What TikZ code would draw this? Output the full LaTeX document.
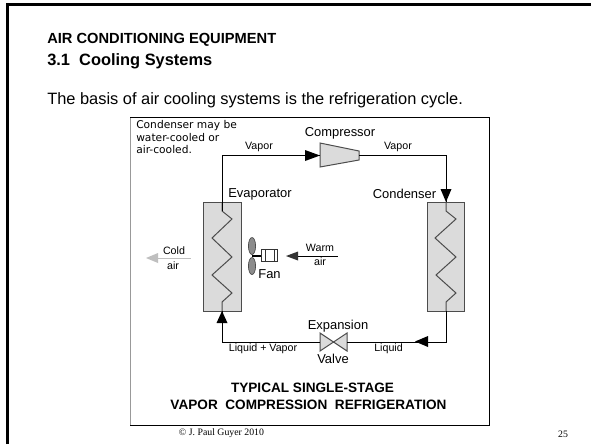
\documentclass[tikz,border=0pt]{standalone}
\usepackage{fontspec}
\setmainfont{Liberation Sans}
\newfontfamily\notefont{DejaVu Sans}
\newfontfamily\footfont{Liberation Serif}
\usetikzlibrary{arrows.meta}
\tikzset{
  x=0.75pt,y=-0.75pt,
  lbl/.style={inner sep=0pt,font=\fontsize{9.7pt}{11pt}\selectfont},
  small/.style={inner sep=0pt,font=\fontsize{8pt}{9pt}\selectfont},
  note/.style={inner sep=0pt,anchor=west,font=\notefont\fontsize{8pt}{9pt}\selectfont},
  head/.style={inner sep=0pt,anchor=west,font=\bfseries\fontsize{11pt}{12pt}\selectfont},
  part/.style={draw=black!70,fill=black!14,line width=0.75pt},
  pipe/.style={draw=black,line width=0.75pt},
  coil/.style={draw=black!70,line width=0.75pt,line join=miter},
  tip/.style={fill=black,draw=none},
  titletext/.style={inner sep=0pt,font=\bfseries\fontsize{10.2pt}{11pt}\selectfont},
  foottext/.style={inner sep=0pt,font=\footfont\fontsize{7.35pt}{8pt}\selectfont},
}
\begin{document}
\begin{tikzpicture}
\useasboundingbox (0,0) rectangle (591,444);
\fill[white] (0,0) rectangle (591,444);
% slide frame
\draw[line width=2pt] (7.5,444) -- (7.5,4.5) -- (591,4.5);
% header
\node[head] (h1) at (47,40) {AIR CONDITIONING EQUIPMENT};
\node[head,font=\bfseries\fontsize{12.3pt}{13pt}\selectfont] (h2) at (47,61) {3.1\ \ Cooling Systems};
\node[inner sep=0pt,anchor=west,font=\fontsize{12.3pt}{13pt}\selectfont] (h3) at (47,100) {The basis of air cooling systems is the refrigeration cycle.};
% diagram box
\fill[white] (130,117) rectangle (489,425);
\draw[black!40,line width=0.75pt] (130,117) -- (130,425);
\draw[black,line width=0.75pt] (130,425) -- (489,425) -- (489,117) -- (130,117);
% exchangers
\node[part,minimum width=28.5pt,minimum height=81.75pt,inner sep=0pt] (evap) at (222,256.5) {};
\node[part,minimum width=27.75pt,minimum height=81.75pt,inner sep=0pt] (cond) at (445.5,256.5) {};
% compressor
\path[part] (320,143) -- (359,151) -- (359,160) -- (320,167) -- cycle;
\coordinate (compin) at (320,155.5);
\coordinate (compout) at (359,155.5);
% valve
\path[part] (320,333) -- (347,351) -- (347,333) -- (320,351) -- cycle;
\coordinate (valvel) at (320,342);
\coordinate (valver) at (347,342);
% coils
\draw[coil] (222,202) -- (222,211) -- (232,219) -- (212,238) -- (232,257) -- (212,275) -- (232,293) -- (222,302) -- (222,311);
\draw[coil] (446,202) -- (446,211) -- (456,219) -- (435,238) -- (456,257) -- (436,275) -- (456,293) -- (446,302) -- (446,311);
% pipes
\draw[pipe] (222,211) -- (222,155.5) -- (compin);
\draw[pipe] (compout) -- (446,155.5) -- (446,202);
\draw[pipe] (446,311) -- (446,342) -- (valver);
\draw[pipe] (valvel) -- (222,342) -- (222,311);
% flow arrowheads
\fill[tip] (320,155.5) -- (305,150) -- (305,161) -- cycle;
\fill[tip] (446,202) -- (440.5,189) -- (451.5,189) -- cycle;
\fill[tip] (415,341.5) -- (428,336) -- (428,347) -- cycle;
\fill[tip] (222,311) -- (216.5,323) -- (227.5,323) -- cycle;
% fan
\draw[black!70,fill=black!45,line width=0.5pt] (252,246) ellipse (3.6 and 8.5);
\draw[black!70,fill=black!45,line width=0.5pt] (252,266) ellipse (3.6 and 8.5);
\draw[black,line width=1.2pt] (252,256) -- (261,256);
\draw[black!80,fill=white,line width=0.6pt] (261,249) rectangle (277,261);
\draw[black!80,line width=0.6pt] (265,249) -- (265,261) (274,249) -- (274,261);
% air
\draw[black,line width=0.5pt] (298,256) -- (338,256);
\fill[black!80] (286,256) -- (298,251.5) -- (298,260.5) -- cycle;
\draw[black!25,line width=0.75pt] (158,258) -- (191,258);
\fill[black!25] (146,258) -- (158,253) -- (158,263) -- cycle;
% labels
\node[note] (n1) at (136,126) {Condenser may be};
\node[note] (n2) at (136,138) {water-cooled or};
\node[note] (n3) at (136,150) {air-cooled.};
\node[small] (v1) at (259,147) {Vapor};
\node[small] (v2) at (398,147) {Vapor};
\node[lbl] (l1) at (340,133) {Compressor};
\node[lbl] (l2) at (260,194) {Evaporator};
\node[lbl] (l3) at (404.5,194) {Condenser};
\node[lbl] (l4) at (269.5,274) {Fan};
\node[small] (l5) at (320,248) {Warm};
\node[small] (l6) at (320,262) {air};
\node[small] (l7) at (174,251) {Cold};
\node[small] (l8) at (173,266) {air};
\node[lbl] (l9) at (338,326) {Expansion};
\node[lbl] (l10) at (333,359) {Valve};
\node[small] (l11) at (263,349) {Liquid + Vapor};
\node[small] (l12) at (388.5,349) {Liquid};
\node[titletext] (t1) at (312.5,388) {TYPICAL SINGLE-STAGE};
\node[titletext] (t2) at (308.5,405) {VAPOR\ \ COMPRESSION\ \ REFRIGERATION};
% footer
\node[foottext] (f1) at (221.5,433) {© J. Paul Guyer \oldstylenums{2010}};
\node[foottext] (f2) at (563,434) {\oldstylenums{25}};
\end{tikzpicture}
\end{document}
